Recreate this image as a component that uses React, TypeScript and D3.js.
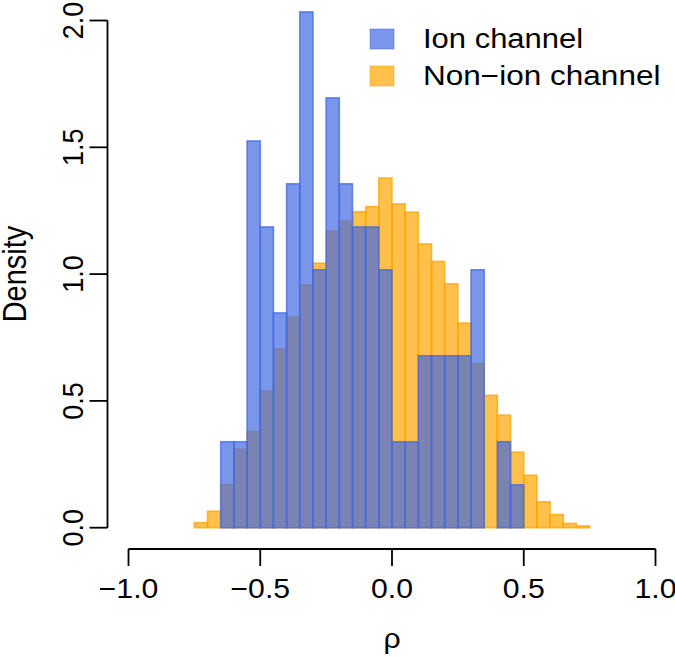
import React from "react";
import * as d3 from "d3";

// Bin edges (width 0.05)
const ionStart = -0.65;
const nonIonStart = -0.75;
const binWidth = 0.05;

// Densities
const ionDensity = [
  0.339, 0.339, 1.525, 1.186, 0.847, 1.356, 2.034, 1.017, 1.695, 1.356, 1.186, 1.186,
  1.017, 0.339, 0.339, 0.678, 0.678, 0.678, 0.678, 1.017, 0, 0.339, 0.169,
];
const nonIonDensity = [
  0.02, 0.065, 0.169, 0.309, 0.379, 0.538, 0.704, 0.83, 0.957, 1.043, 1.169, 1.209,
  1.246, 1.266, 1.379, 1.277, 1.244, 1.119, 1.05, 0.962, 0.807, 0.647, 0.522, 0.444,
  0.298, 0.207, 0.102, 0.052, 0.017, 0.007,
];

const xTicks = [-1.0, -0.5, 0.0, 0.5, 1.0];
const yTicks = [0.0, 0.5, 1.0, 1.5, 2.0];
const seriesNames = ["Ion channel", "Non\u2212ion channel"];
const seriesColors = ["royalblue", "orange"];
const legendTextLengths = [143, 212];

const FONT = "'Liberation Sans', Arial, Helvetica, sans-serif";
const SX = 1.12;

function fmt(v: number) {
  return (v < 0 ? "\u2212" : "") + Math.abs(v).toFixed(1);
}

export default function App() {
  const x = d3.scaleLinear().domain([-1, 1]).range([128.5, 655.5]);
  const y = d3.scaleLinear().domain([0, 2]).range([527.7, 20.5]);

  const toBins = (start: number, vals: number[]) =>
    vals.map((v, i) => ({ x0: start + i * binWidth, x1: start + (i + 1) * binWidth, v }));

  const ionBins = toBins(ionStart, ionDensity);
  const nonBins = toBins(nonIonStart, nonIonDensity);

  const yAxisX = 107.5;
  const xAxisY = 549;

  const bar = (b: { x0: number; x1: number; v: number }, color: string, key: string) =>
    b.v > 0 ? (
      <rect
        key={key}
        x={x(b.x0)}
        y={y(b.v)}
        width={x(b.x1) - x(b.x0)}
        height={y(0) - y(b.v)}
        fill={color}
        fillOpacity={0.7}
        stroke={color}
        strokeOpacity={0.75}
        strokeWidth={1.6}
      />
    ) : null;

  return (
    <svg
      width={675}
      height={657}
      style={{ position: "absolute", left: 0, top: 0, background: "white" }}
      fontFamily={FONT}
    >
      <rect x={0} y={0} width={675} height={657} fill="white" />
      {nonBins.map((b, i) => bar(b, seriesColors[1], "n" + i))}
      {ionBins.map((b, i) => bar(b, seriesColors[0], "i" + i))}

      {/* Y axis */}
      <line x1={yAxisX} x2={yAxisX} y1={y(0)} y2={y(2)} stroke="black" strokeWidth={1.8} />
      {yTicks.map((t) => (
        <g key={"yt" + t}>
          <line x1={yAxisX - 18} x2={yAxisX} y1={y(t)} y2={y(t)} stroke="black" strokeWidth={1.8} />
          <text
            transform={`translate(83,${y(t)}) scale(${SX},1) rotate(-90)`}
            textAnchor="middle"
            fontSize={27}
            fill="black"
          >
            {fmt(t)}
          </text>
        </g>
      ))}

      {/* X axis */}
      <line x1={x(-1)} x2={x(1)} y1={xAxisY} y2={xAxisY} stroke="black" strokeWidth={1.8} />
      {xTicks.map((t) => (
        <g key={"xt" + t}>
          <line x1={x(t)} x2={x(t)} y1={xAxisY} y2={xAxisY + 17} stroke="black" strokeWidth={1.8} />
          <text
            transform={`translate(${x(t)},598) scale(${SX},1)`}
            textAnchor="middle"
            fontSize={27}
            fill="black"
          >
            {fmt(t)}
          </text>
        </g>
      ))}

      {/* Axis titles */}
      <text
        transform={`translate(392,648) scale(${SX},1)`}
        textAnchor="middle"
        fontSize={27}
        fill="black"
      >
        ρ
      </text>
      <text
        transform={`translate(26,274) scale(${SX},1) rotate(-90)`}
        textAnchor="middle"
        fontSize={29}
        fill="black"
      >
        Density
      </text>

      {/* Legend */}
      {seriesNames.map((name, i) => {
        const top = i === 0 ? 29 : 66;
        return (
          <g key={"lg" + i}>
            <rect
              x={370}
              y={top}
              width={24}
              height={20}
              fill={seriesColors[i]}
              fillOpacity={0.7}
              stroke={seriesColors[i]}
              strokeOpacity={0.5}
              strokeWidth={1}
            />
            <text
              transform={`translate(423,${top + 19.3}) scale(${SX},1)`}
              fontSize={27}
              fill="black"
              textLength={legendTextLengths[i]}
              lengthAdjust="spacingAndGlyphs"
            >
              {name}
            </text>
          </g>
        );
      })}
    </svg>
  );
}
